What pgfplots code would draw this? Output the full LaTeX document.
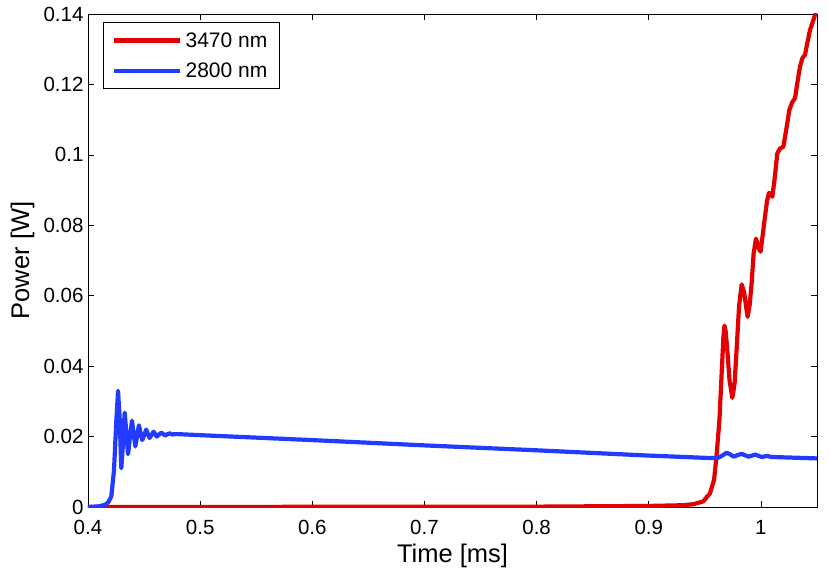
\documentclass[border=0pt]{standalone}
\usepackage{pgfplots}
\pgfplotsset{compat=1.18}
\usepackage{fontspec}
\setmainfont{Liberation Sans}
\definecolor{myred}{RGB}{226,0,0}
\definecolor{myblue}{RGB}{34,60,255}
\begin{document}
\begin{tikzpicture}[x=1pt,y=1pt]
\useasboundingbox (-88pt,-69pt) rectangle (742pt,507pt);
\begin{axis}[
  scale only axis,
  width=729pt, height=493pt,
  xmin=0.4, xmax=1.05, ymin=0, ymax=0.14,
  xtick={0.4,0.5,0.6,0.7,0.8,0.9,1},
  ytick={0,0.02,0.04,0.06,0.08,0.1,0.12,0.14},
  scaled y ticks=false, scaled x ticks=false,
  yticklabel style={/pgf/number format/fixed,/pgf/number format/precision=2},
  /pgf/number format/assume math mode=true,
  tick label style={font=\fontsize{20.5}{22}\selectfont},
  label style={font=\fontsize{25.5}{28}\selectfont},
  xlabel={Time [ms]}, ylabel={Power [W]},
  xlabel style={at={(axis description cs:0.5,0)},anchor=base,yshift=-55pt},
  ylabel style={at={(axis description cs:0,0.5)},anchor=north,yshift=81pt},
  axis line style={line width=0.8pt},
  major tick length=6pt,
  tick style={line width=0.6pt,black},
  tick align=inside,
  xticklabel style={yshift=-10pt},
  yticklabel style={xshift=-1pt},
  legend style={at={(15/729,1-8/493)}, anchor=north west, draw=black, line width=0.8pt,
    font=\fontsize{21}{24}\selectfont, inner xsep=9pt, inner ysep=7pt, row sep=8pt},
  legend cell align=left,
  legend image code/.code={\draw[#1,line width=4.2pt] (0pt,0pt) -- (66pt,0pt);},
  every axis legend/.append style={nodes={inner sep=3pt}},
]
\addplot[myred, line width=4.2pt, line join=round] coordinates {
(0.4,0) (0.8,0.0001) (0.85,0.0002) (0.9,0.0003) (0.93,0.0005) (0.94,0.0008)
(0.9486,0.0016) (0.9546,0.0039) (0.9582,0.0077) (0.9606,0.0152) (0.963,0.0247)
(0.965,0.038) (0.9665,0.048) (0.9675,0.0515) (0.9685,0.050) (0.970,0.0446)
(0.972,0.036) (0.9745,0.031) (0.9765,0.035) (0.9783,0.0446) (0.9805,0.057)
(0.9828,0.0632) (0.985,0.061) (0.9881,0.0540) (0.990,0.0575) (0.9917,0.0635)
(0.9935,0.072) (0.9956,0.0762) (0.998,0.0735) (0.9997,0.0725) (1.0015,0.077)
(1.0036,0.0824) (1.0055,0.087) (1.0072,0.0892) (1.0090,0.0888) (1.0102,0.0881)
(1.0125,0.094) (1.0146,0.1004) (1.017,0.1018) (1.020,0.1023) (1.0225,0.107)
(1.0253,0.1127) (1.028,0.1150) (1.0304,0.1161) (1.0325,0.1205) (1.0349,0.1251)
(1.037,0.1275) (1.0393,0.1284) (1.0415,0.132) (1.0438,0.1355) (1.0465,0.138) (1.05,0.1415)
};
\addlegendentry{3470 nm}
\addplot[myblue, line width=4.2pt, line join=round] coordinates {
(0.40,0.0) (0.41,0.0002) (0.415,0.0006) (0.418,0.0013) (0.4208,0.003) (0.4232,0.0105)
(0.4253,0.0247) (0.4268,0.0330) (0.4283,0.0247) (0.4297,0.011) (0.4312,0.018)
(0.4327,0.0268) (0.4342,0.021) (0.4357,0.0150) (0.4375,0.020) (0.4392,0.0245)
(0.4407,0.021) (0.4422,0.0172) (0.4438,0.0202) (0.4454,0.0232) (0.4469,0.021)
(0.4484,0.0190) (0.4502,0.0205) (0.4519,0.0220) (0.4534,0.0207) (0.4549,0.0196)
(0.4567,0.0205) (0.4585,0.0214) (0.460,0.0207) (0.4614,0.0200) (0.4634,0.0206)
(0.4654,0.0211) (0.4672,0.0207) (0.4689,0.0203) (0.471,0.0207) (0.473,0.0209)
(0.475,0.0206) (0.478,0.0207) (0.48,0.0207) (0.5,0.0204) (0.6,0.0190) (0.7,0.0175)
(0.8,0.0161) (0.9,0.0146) (0.955,0.0139) (0.962,0.0140) (0.965,0.0145) (0.9694,0.0154)
(0.9724,0.0150) (0.9754,0.0143) (0.979,0.0147) (0.9828,0.0151) (0.9858,0.0147)
(0.9888,0.0143) (0.992,0.0146) (0.9948,0.0149) (0.998,0.0145) (1.001,0.0142)
(1.005,0.0145) (1.01,0.0142) (1.02,0.0141) (1.03,0.0140) (1.04,0.0139) (1.05,0.0138)
};
\addlegendentry{2800 nm}
\end{axis}
\end{tikzpicture}
\end{document}
